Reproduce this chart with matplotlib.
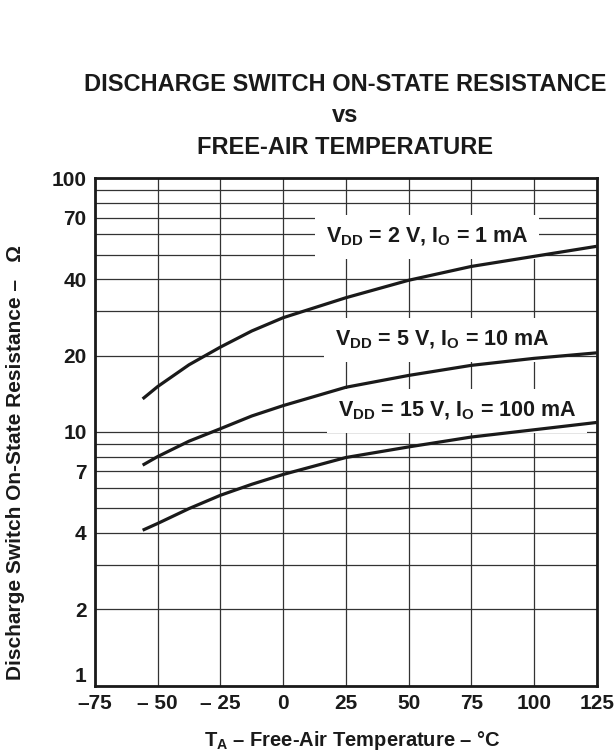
import matplotlib
matplotlib.use("Agg")
import matplotlib.pyplot as plt
from matplotlib.ticker import FixedLocator, LogLocator, NullFormatter

plt.rcParams['font.family'] = ['Liberation Sans', 'DejaVu Sans']
plt.rcParams['font.weight'] = 'bold'
plt.rcParams['mathtext.fontset'] = 'custom'
plt.rcParams['mathtext.rm'] = 'Liberation Sans:bold'
plt.rcParams['mathtext.bf'] = 'Liberation Sans:bold'

# values
temps = [-56, -50, -37.5, -25, -12.5, 0, 25, 50, 75, 100, 125]
r_2v = [13.5, 15.1, 18.4, 21.6, 25.0, 28.2, 33.8, 39.6, 44.9, 49.2, 53.9]
r_5v = [7.4, 8.0, 9.2, 10.3, 11.56, 12.7, 15.0, 16.7, 18.3, 19.5, 20.5]
r_15v = [4.1, 4.36, 4.99, 5.63, 6.22, 6.8, 7.93, 8.73, 9.55, 10.2, 10.9]

labels = [r"V$_\mathbf{DD}$ = 2 V, I$_\mathbf{O}$ = 1 mA",
          r"V$_\mathbf{DD}$ = 5 V, I$_\mathbf{O}$ = 10 mA",
          r"V$_\mathbf{DD}$ = 15 V, I$_\mathbf{O}$ = 100 mA"]
label_x = [57.5, 63.5, 69.5]
label_y = [58.5, 23.0, 12.1]

xticks = [-75, -50, -25, 0, 25, 50, 75, 100, 125]
xticklabels = ['–75', '– 50', '– 25', '0', '25', '50', '75', '100', '125']
yticks = [1, 2, 4, 7, 10, 20, 40, 70, 100]

ink = '#1a1a1a'

fig = plt.figure(figsize=(6.14, 7.5), dpi=100)
ax = fig.add_axes([0.1547, 0.0857, 0.8171, 0.6767])

for series in (r_2v, r_5v, r_15v):
    ax.plot(temps, series, color=ink, lw=2.3, solid_capstyle='butt',
            solid_joinstyle='round', zorder=3)

for txt, lx, ly in zip(labels, label_x, label_y):
    ax.text(lx, ly, txt, ha='center', va='center', fontsize=15.5, color=ink,
            zorder=2, bbox=dict(boxstyle='square,pad=0.5', fc='white', ec='none'))

ax.set_yscale('log')
ax.set_xlim(-75, 125)
ax.set_ylim(1, 100)
ax.xaxis.set_major_locator(FixedLocator(xticks))
ax.set_xticklabels(xticklabels)
ax.yaxis.set_major_locator(FixedLocator(yticks))
ax.set_yticklabels([str(v) for v in yticks])
ax.yaxis.set_minor_locator(LogLocator(base=10, subs=range(1, 10)))
ax.yaxis.set_minor_formatter(NullFormatter())

ax.set_axisbelow(True)
ax.grid(True, which='both', color='#333333', lw=0.9)
ax.tick_params(which='both', length=0, labelsize=15, colors=ink)
ax.tick_params(axis='x', pad=6)
ax.tick_params(axis='y', pad=6)
for s in ax.spines.values():
    s.set_linewidth(2.0)
    s.set_color(ink)
    s.set_zorder(4)

# the "1" sits on the bottom edge in the original, clear of the x labels
ax.get_yticklabels()[0].set_verticalalignment('bottom')

fig.text(345 / 614, 1 - 116 / 750,
         "DISCHARGE SWITCH ON-STATE RESISTANCE\nvs\nFREE-AIR TEMPERATURE",
         ha='center', va='center', fontsize=17, fontweight='bold',
         linespacing=1.45, color=ink)
fig.text(352 / 614, 1 - 740 / 750, r"T$_\mathbf{A}$ – Free-Air Temperature – °C",
         ha='center', va='center', fontsize=14.5, color=ink)
fig.text(16 / 614, 1 - 462 / 750, "Discharge Switch On-State Resistance –   Ω",
         ha='center', va='center', rotation=90, fontsize=15, color=ink)

fig.savefig("out.png", dpi=100)
